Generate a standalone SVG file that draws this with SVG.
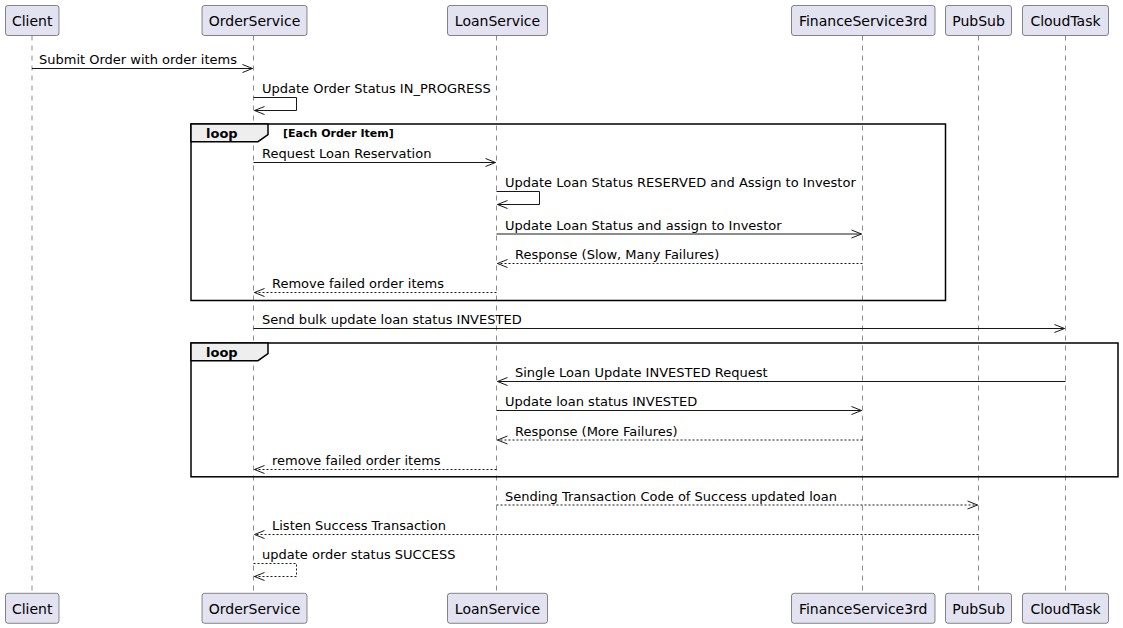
<svg xmlns="http://www.w3.org/2000/svg" width="1123" height="628" viewBox="0 0 1123 628">
<style>
.life{stroke:#181818;stroke-width:0.5;stroke-dasharray:5,5;fill:none}
.box{fill:#E2E2F0;stroke:#181818;stroke-width:0.5}
.pt{font-family:"DejaVu Sans",sans-serif;font-size:14px;fill:#000;text-anchor:middle}
.msg{stroke:#181818;stroke-width:1;fill:none}
.dash{stroke:#181818;stroke-width:1;fill:none;stroke-dasharray:2,2}
.head{stroke:#181818;stroke-width:1;fill:none}
.mt{font-family:"DejaVu Sans",sans-serif;font-size:13px;fill:#000}
.frame{stroke:#000;stroke-width:1.5;fill:none}
.tab{stroke:#000;stroke-width:1.5;fill:#EEEEEE}
.lt{font-family:"DejaVu Sans",sans-serif;font-size:13px;font-weight:bold;fill:#000}
.ct{font-family:"DejaVu Sans",sans-serif;font-size:11px;font-weight:bold;fill:#000}
</style>
<rect width="1123" height="628" fill="#FFFFFF"/>
<g id="lifelines">
<line class="life" x1="32" y1="35.5" x2="32" y2="593"/>
<line class="life" x1="253.5" y1="35.5" x2="253.5" y2="593"/>
<line class="life" x1="496.5" y1="35.5" x2="496.5" y2="593"/>
<line class="life" x1="862.5" y1="35.5" x2="862.5" y2="593"/>
<line class="life" x1="978.5" y1="35.5" x2="978.5" y2="593"/>
<line class="life" x1="1065.5" y1="35.5" x2="1065.5" y2="593"/>
</g>
<g id="loop1">
<rect class="frame" x="191" y="124" width="754.5" height="176.5"/>
<path class="tab" d="M191,124 L268,124 L268,134.5 L258,141.7 L191,141.7 Z"/>
<text class="lt" x="206" y="138">loop</text>
<text class="ct" x="283" y="136.5">[Each Order Item]</text>
</g>
<g id="loop2">
<rect class="frame" x="191" y="343" width="927" height="133.8"/>
<path class="tab" d="M191,343 L268,343 L268,353.5 L258,360.7 L191,360.7 Z"/>
<text class="lt" x="206" y="357">loop</text>
</g>
<g id="connectors">
<!-- 1 Submit -->
<line class="msg" x1="32" y1="68.5" x2="252.5" y2="68.5"/>
<path class="head" d="M242.5,64.5 L252.5,68.5 L242.5,72.5"/>
<text class="mt" x="39" y="64">Submit Order with order items</text>
<!-- 2 self -->
<path class="msg" d="M253.5,97.5 L296.5,97.5 L296.5,110.5 L254.5,110.5"/>
<path class="head" d="M264.5,106.5 L254.5,110.5 L264.5,114.5"/>
<text class="mt" x="262" y="93">Update Order Status IN_PROGRESS</text>
<!-- 3 request -->
<line class="msg" x1="253.5" y1="162.5" x2="495.5" y2="162.5"/>
<path class="head" d="M485.5,158.5 L495.5,162.5 L485.5,166.5"/>
<text class="mt" x="262" y="158">Request Loan Reservation</text>
<!-- 4 self loan -->
<path class="msg" d="M496.5,191.5 L539.5,191.5 L539.5,204.5 L497.5,204.5"/>
<path class="head" d="M507.5,200.5 L497.5,204.5 L507.5,208.5"/>
<text class="mt" x="505" y="187">Update Loan Status RESERVED and Assign to Investor</text>
<!-- 5 -->
<line class="msg" x1="496.5" y1="234" x2="861.5" y2="234"/>
<path class="head" d="M851.5,230 L861.5,234 L851.5,238"/>
<text class="mt" x="505" y="229.5">Update Loan Status and assign to Investor</text>
<!-- 6 -->
<line class="dash" x1="862.5" y1="263.5" x2="497.5" y2="263.5"/>
<path class="head" d="M507.5,259.5 L497.5,263.5 L507.5,267.5"/>
<text class="mt" x="515" y="259">Response (Slow, Many Failures)</text>
<!-- 7 -->
<line class="dash" x1="496.5" y1="292.5" x2="254.5" y2="292.5"/>
<path class="head" d="M264.5,288.5 L254.5,292.5 L264.5,296.5"/>
<text class="mt" x="272" y="288">Remove failed order items</text>
<!-- 8 -->
<line class="msg" x1="253.5" y1="328.5" x2="1064.5" y2="328.5"/>
<path class="head" d="M1054.5,324.5 L1064.5,328.5 L1054.5,332.5"/>
<text class="mt" x="262" y="324">Send bulk update loan status INVESTED</text>
<!-- 9 -->
<line class="msg" x1="1065.5" y1="381.5" x2="497.5" y2="381.5"/>
<path class="head" d="M507.5,377.5 L497.5,381.5 L507.5,385.5"/>
<text class="mt" x="515" y="377">Single Loan Update INVESTED Request</text>
<!-- 10 -->
<line class="msg" x1="496.5" y1="410.5" x2="861.5" y2="410.5"/>
<path class="head" d="M851.5,406.5 L861.5,410.5 L851.5,414.5"/>
<text class="mt" x="505" y="406">Update loan status INVESTED</text>
<!-- 11 -->
<line class="dash" x1="862.5" y1="440" x2="497.5" y2="440"/>
<path class="head" d="M507.5,436 L497.5,440 L507.5,444"/>
<text class="mt" x="515" y="435.5">Response (More Failures)</text>
<!-- 12 -->
<line class="dash" x1="496.5" y1="469.5" x2="254.5" y2="469.5"/>
<path class="head" d="M264.5,465.5 L254.5,469.5 L264.5,473.5"/>
<text class="mt" x="272" y="465">remove failed order items</text>
<!-- 13 -->
<line class="dash" x1="496.5" y1="505" x2="977.5" y2="505"/>
<path class="head" d="M967.5,501 L977.5,505 L967.5,509"/>
<text class="mt" x="505" y="500.5">Sending Transaction Code of Success updated loan</text>
<!-- 14 -->
<line class="dash" x1="978.5" y1="534.5" x2="254.5" y2="534.5"/>
<path class="head" d="M264.5,530.5 L254.5,534.5 L264.5,538.5"/>
<text class="mt" x="272" y="530">Listen Success Transaction</text>
<!-- 15 self dashed -->
<path class="dash" d="M253.5,563.5 L296.5,563.5 L296.5,576.5 L254.5,576.5"/>
<path class="head" d="M264.5,572.5 L254.5,576.5 L264.5,580.5"/>
<text class="mt" x="262" y="559">update order status SUCCESS</text>
</g>
<g id="Client">
<rect class="box" x="5.5" y="5.5" width="53.5" height="30" rx="2.5"/>
<text class="pt" x="32.2" y="25.5">Client</text>
<rect class="box" x="5.5" y="593.3" width="53.5" height="30" rx="2.5"/>
<text class="pt" x="32.2" y="613.5">Client</text>
</g>
<g id="OrderService">
<rect class="box" x="202" y="5.5" width="105" height="30" rx="2.5"/>
<text class="pt" x="254.5" y="25.5">OrderService</text>
<rect class="box" x="202" y="593.3" width="105" height="30" rx="2.5"/>
<text class="pt" x="254.5" y="613.5">OrderService</text>
</g>
<g id="LoanService">
<rect class="box" x="447.5" y="5.5" width="100" height="30" rx="2.5"/>
<text class="pt" x="497.5" y="25.5">LoanService</text>
<rect class="box" x="447.5" y="593.3" width="100" height="30" rx="2.5"/>
<text class="pt" x="497.5" y="613.5">LoanService</text>
</g>
<g id="FinanceService3rd">
<rect class="box" x="791.5" y="5.5" width="143.5" height="30" rx="2.5"/>
<text class="pt" x="863.2" y="25.5">FinanceService3rd</text>
<rect class="box" x="791.5" y="593.3" width="143.5" height="30" rx="2.5"/>
<text class="pt" x="863.2" y="613.5">FinanceService3rd</text>
</g>
<g id="PubSub">
<rect class="box" x="945.5" y="5.5" width="66" height="30" rx="2.5"/>
<text class="pt" x="978.5" y="25.5">PubSub</text>
<rect class="box" x="945.5" y="593.3" width="66" height="30" rx="2.5"/>
<text class="pt" x="978.5" y="613.5">PubSub</text>
</g>
<g id="CloudTask">
<rect class="box" x="1022.5" y="5.5" width="86" height="30" rx="2.5"/>
<text class="pt" x="1065.5" y="25.5">CloudTask</text>
<rect class="box" x="1022.5" y="593.3" width="86" height="30" rx="2.5"/>
<text class="pt" x="1065.5" y="613.5">CloudTask</text>
</g>
</svg>
